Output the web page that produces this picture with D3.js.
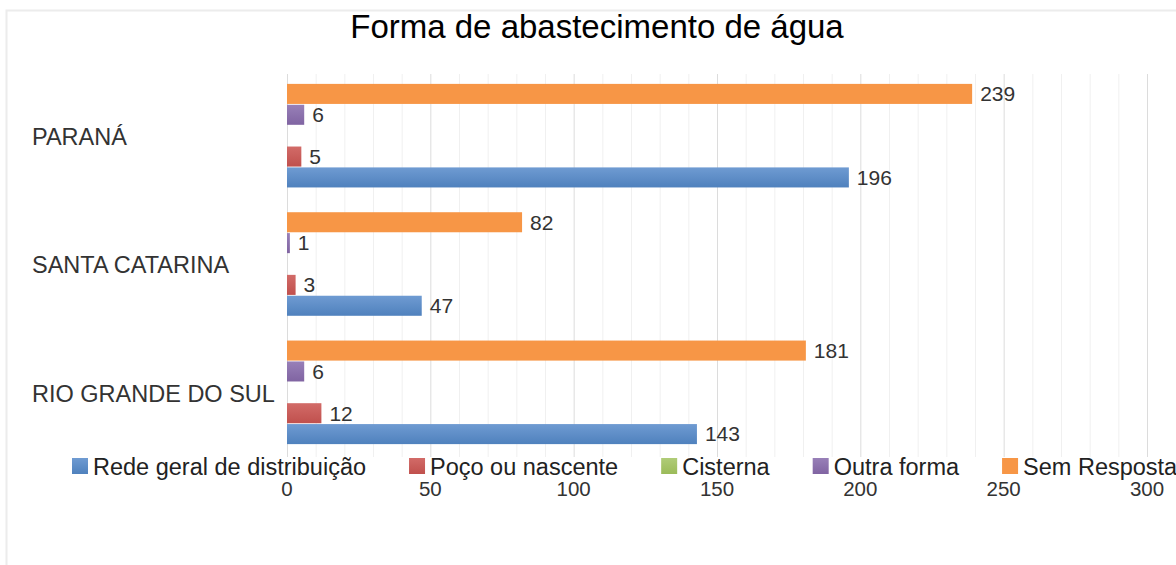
<!DOCTYPE html>
<html>
<head>
<meta charset="utf-8">
<script src="https://cdn.jsdelivr.net/npm/d3@7"></script>
<style>
  body { margin: 0; background: #fff; }
  svg { display: block; font-family: "Liberation Sans", Arial, sans-serif; }
</style>
</head>
<body>
<div class="svg-container"></div>
<script>
// data
var states = ["PARANÁ", "SANTA CATARINA", "RIO GRANDE DO SUL"];
var seriesNames = ["Rede geral de distribuição", "Poço ou nascente", "Cisterna", "Outra forma", "Sem Resposta"];
var rede = [196, 47, 143];
var poco = [5, 3, 12];
var cisterna = [0, 0, 0];
var outra = [6, 1, 6];
var semResposta = [239, 82, 181];
var xTicks = [0, 50, 100, 150, 200, 250, 300];

var colors = ["#4F81BD", "#C0504D", "#9BBB59", "#8064A2", "#F79646"];
var colorsLight = ["#6f9bd2", "#d26b68", "#b0cc78", "#9880b8", "#F79646"];

var seriesValues = [rede, poco, cisterna, outra, semResposta];

var width = 1176, height = 565;

var svg = d3.select(".svg-container").append("svg")
    .attr("width", width)
    .attr("height", height);

// gradients for bars
var defs = svg.append("defs");
colors.forEach(function(c, i) {
    var g = defs.append("linearGradient")
        .attr("id", "grad" + i)
        .attr("x1", 0).attr("y1", 0).attr("x2", 0).attr("y2", 1);
    g.append("stop").attr("offset", "0%").attr("stop-color", colorsLight[i]);
    g.append("stop").attr("offset", "100%").attr("stop-color", c);
});

// chart border
svg.append("path")
    .attr("d", "M6.5,565 V10.5 H1176")
    .attr("fill", "none")
    .attr("stroke", "#ececec")
    .attr("stroke-width", 2);

// title
svg.append("text")
    .attr("x", 597)
    .attr("y", 38)
    .attr("text-anchor", "middle")
    .style("font-size", "33px")
    .style("fill", "#000")
    .text("Forma de abastecimento de água");

// scales
var x = d3.scaleLinear().domain([0, 300]).range([287, 1147]);

var y0 = d3.scaleBand()
    .domain(states)
    .range([71.5, 456.5])
    .paddingInner(0.18)
    .paddingOuter(0.09);

// top to bottom: Sem Resposta ... Rede
var order = [4, 3, 2, 1, 0];
var y1 = d3.scaleBand()
    .domain(order)
    .range([0, y0.bandwidth()])
    .padding(0.04);

// minor grid
var minor = d3.range(10, 301, 10).filter(function(v) { return v % 50 !== 0; });
svg.append("g").selectAll("line")
    .data(minor)
    .enter().append("line")
    .attr("x1", function(d) { return x(d) + 0.5; })
    .attr("x2", function(d) { return x(d) + 0.5; })
    .attr("y1", 74)
    .attr("y2", 457)
    .style("stroke", "#f0f0f0");

// major grid
svg.append("g").selectAll("line")
    .data(xTicks)
    .enter().append("line")
    .attr("x1", function(d) { return x(d) + 0.5; })
    .attr("x2", function(d) { return x(d) + 0.5; })
    .attr("y1", 74)
    .attr("y2", 457)
    .style("stroke", "#dcdcdc");

// bars
var rows = [];
states.forEach(function(s, si) {
    order.forEach(function(k) {
        rows.push({ state: s, key: k, value: seriesValues[k][si] });
    });
});

svg.append("g").selectAll("rect")
    .data(rows)
    .enter().append("rect")
    .attr("x", x(0))
    .attr("y", function(d) { return y0(d.state) + y1(d.key); })
    .attr("width", function(d) { return x(d.value) - x(0); })
    .attr("height", y1.bandwidth())
    .style("fill", function(d) { return "url(#grad" + d.key + ")"; });

// value labels
svg.append("g").selectAll("text")
    .data(rows.filter(function(d) { return d.value > 0; }))
    .enter().append("text")
    .attr("x", function(d) { return x(d.value) + 8; })
    .attr("y", function(d) { return y0(d.state) + y1(d.key) + y1.bandwidth() / 2; })
    .attr("dy", "0.35em")
    .style("font-size", "21px")
    .style("fill", "#333")
    .text(function(d) { return d.value; });

// category labels
svg.append("g").selectAll("text")
    .data(states)
    .enter().append("text")
    .attr("x", 32)
    .attr("y", function(d) { return y0(d) + y0.bandwidth() / 2 + 1; })
    .attr("dy", "0.35em")
    .style("font-size", "23.5px")
    .style("fill", "#333")
    .text(function(d) { return d; });

// x tick labels
svg.append("g").selectAll("text")
    .data(xTicks)
    .enter().append("text")
    .attr("x", function(d) { return x(d); })
    .attr("y", 496)
    .attr("text-anchor", "middle")
    .style("font-size", "20.5px")
    .style("fill", "#333")
    .text(function(d) { return d; });

// legend (sits over the tick labels, as in the original)
var legend = svg.append("g");
var lx = 72;
seriesNames.forEach(function(name, i) {
    legend.append("rect")
        .attr("x", lx)
        .attr("y", 458)
        .attr("width", 16)
        .attr("height", 16)
        .style("fill", "url(#grad" + i + ")");
    var t = legend.append("text")
        .attr("x", lx + 21)
        .attr("y", 475)
        .style("font-size", "23.5px")
        .style("fill", "#222")
        .text(name);
    lx = lx + 21 + t.node().getComputedTextLength() + 43;
});
</script>
</body>
</html>
